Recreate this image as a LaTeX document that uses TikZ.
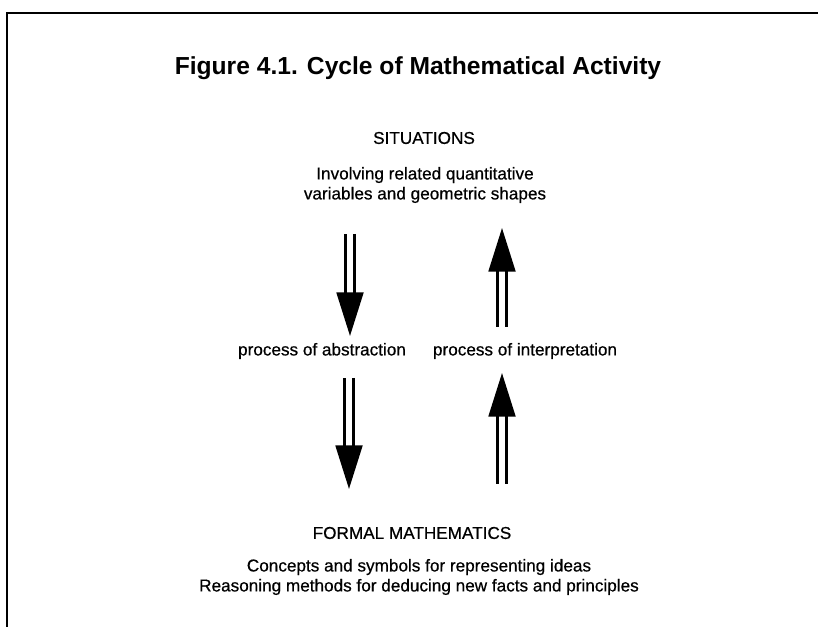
\documentclass[tikz,border=0pt]{standalone}
\usepackage{fontspec}
\setmainfont{Liberation Sans}
\newfontfamily\scanfont{Liberation Sans}[FakeBold=0.6]
\usetikzlibrary{arrows.meta}

\begin{document}
\begin{tikzpicture}[
        x=0.025cm, y=-0.025cm,
        txt/.style = {font=\scanfont\fontsize{12.2}{14.2}\selectfont, align=center, inner sep=0pt},
        hd/.style  = {font=\fontsize{17.5}{20}\selectfont\bfseries, inner sep=0pt},
        ar/.style  = {double, line width=2pt, double distance=4.2pt, -{Triangle[length=31pt, width=19pt]}},
        frm/.style = {line width=1.4pt}
    ]
        \useasboundingbox (0,0) rectangle (818,629);
        \draw[frm] (818,13) -- (7,13) -- (7,627);

        \node[hd]  (title) at (418,68)  {Figure 4.1. Cycle of Mathematical Activity};
        \node[txt] (sit)   at (424,138) {SITUATIONS};
        \node[txt] (sitd)  at (425,185) {Involving related quantitative\\variables and geometric shapes};
        \node[txt] (abs)   at (322,351) {process of abstraction};
        \node[txt] (int)   at (525,351) {process of interpretation};
        \node[txt] (fm)    at (412,533) {FORMAL MATHEMATICS};
        \node[txt] (fmd)   at (419,577) {Concepts and symbols for representing ideas\\Reasoning methods for deducing new facts and principles};

        \coordinate (a1) at (350,234);
        \coordinate (b1) at (350,336);
        \coordinate (a2) at (502,327);
        \coordinate (b2) at (502,228);
        \coordinate (a3) at (349,378);
        \coordinate (b3) at (349,489);
        \coordinate (a4) at (502,484);
        \coordinate (b4) at (502,373);

        \draw[ar] (a1) -- (b1);
        \draw[ar] (a2) -- (b2);
        \draw[ar] (a3) -- (b3);
        \draw[ar] (a4) -- (b4);
    \end{tikzpicture}
\end{document}
